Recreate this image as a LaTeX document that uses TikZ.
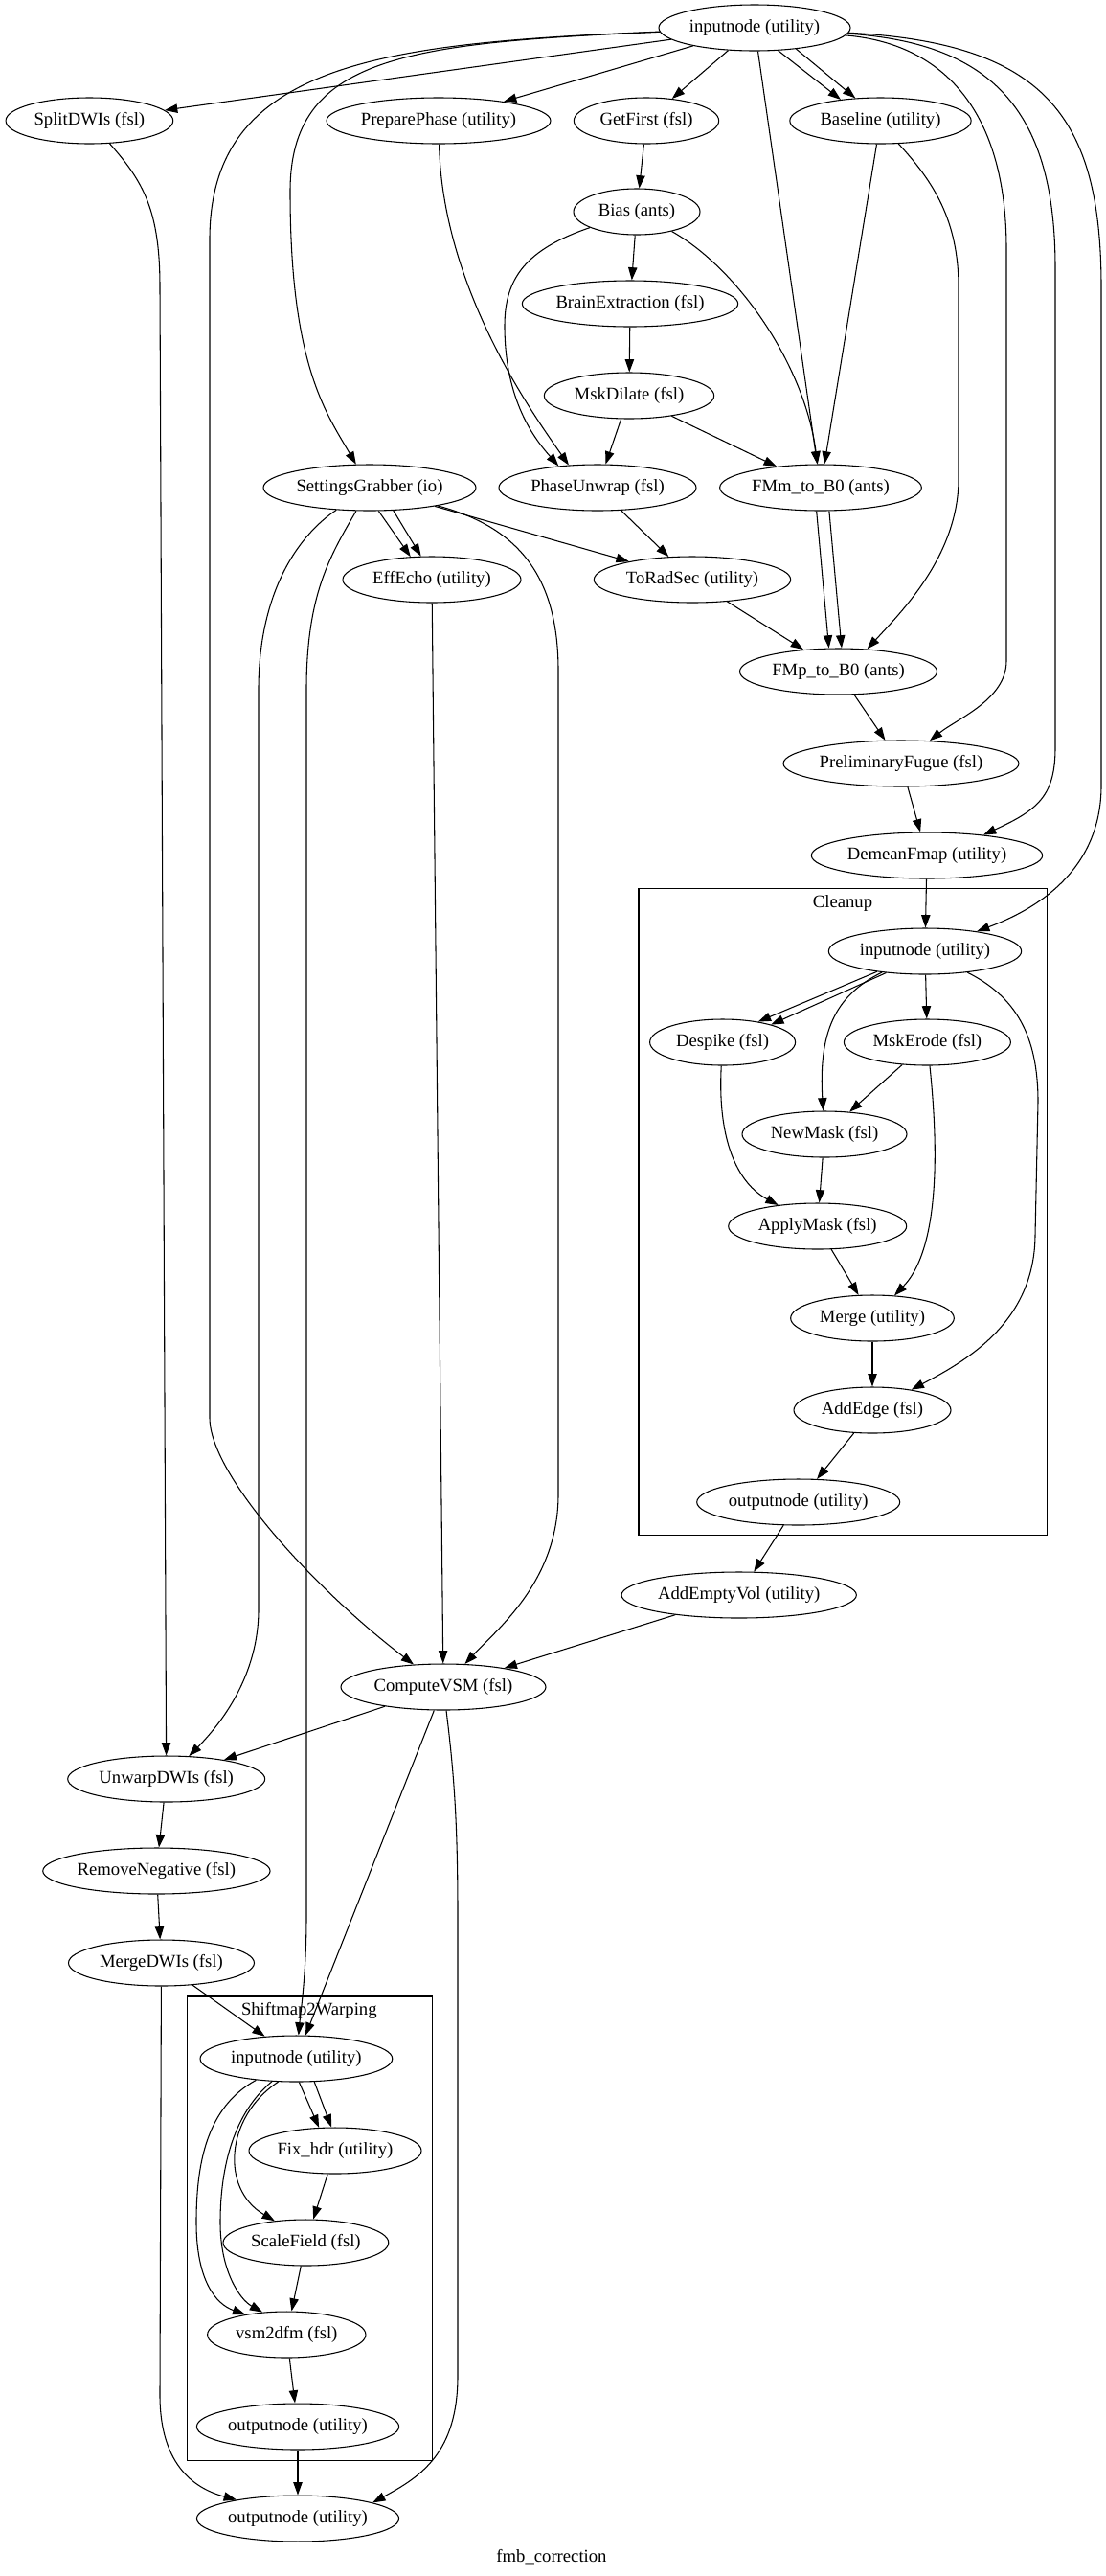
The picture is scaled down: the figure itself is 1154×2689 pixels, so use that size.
\documentclass[tikz,border=0pt]{standalone}
\usepackage{fontspec}
\setmainfont{Liberation Serif}
\usetikzlibrary{arrows.meta,shapes.geometric}
\begin{document}
\begin{tikzpicture}[x=0.75pt,y=-0.75pt,
  gnode/.style={ellipse,draw,line width=0.8pt,inner sep=0pt,minimum height=36pt,font=\fontsize{14}{16}\selectfont},
  lbl/.style={inner sep=0pt,font=\fontsize{14}{16}\selectfont},
  cluster/.style={rectangle,draw,line width=0.8pt,inner sep=0pt},
  e/.style={line width=0.8pt,-{Triangle[length=10pt,width=7pt]}}]
\useasboundingbox (0,0) rectangle (1154,2689);
% clusters
\node[cluster,minimum width=320pt,minimum height=506.5pt] (cleanup) at (880.3,1265.15) {};
\node[lbl] (cleanuplbl) at (880,943) {Cleanup};
\node[cluster,minimum width=191.85pt,minimum height=363pt] (s2w) at (323.4,2326) {};
\node[lbl] (s2wlbl) at (322.8,2098.5) {Shiftmap2Warping};
\node[lbl] (title) at (576,2669) {fmb\_correction};
% nodes
\node[gnode,minimum width=150pt] (in) at (788,29) {inputnode (utility)};
\node[gnode,minimum width=131pt] (split) at (93.4,126) {SplitDWIs (fsl)};
\node[gnode,minimum width=175.5pt] (prep) at (458,126) {PreparePhase (utility)};
\node[gnode,minimum width=113.5pt] (getfirst) at (675,126) {GetFirst (fsl)};
\node[gnode,minimum width=142pt] (baseline) at (919.5,126) {Baseline (utility)};
\node[gnode,minimum width=99pt] (bias) at (665,221) {Bias (ants)};
\node[gnode,minimum width=169pt] (brain) at (658,317) {BrainExtraction (fsl)};
\node[gnode,minimum width=133pt] (mskdil) at (657,413) {MskDilate (fsl)};
\node[gnode,minimum width=166.5pt] (sg) at (386,509) {SettingsGrabber (io)};
\node[gnode,minimum width=154.5pt] (phase) at (624,509) {PhaseUnwrap (fsl)};
\node[gnode,minimum width=158pt] (fmm) at (857,509) {FMm\_to\_B0 (ants)};
\node[gnode,minimum width=139.5pt] (eff) at (451,605) {EffEcho (utility)};
\node[gnode,minimum width=154pt] (torad) at (723,605) {ToRadSec (utility)};
\node[gnode,minimum width=154.5pt] (fmp) at (875.5,701) {FMp\_to\_B0 (ants)};
\node[gnode,minimum width=184.5pt] (prelim) at (941,797) {PreliminaryFugue (fsl)};
\node[gnode,minimum width=181pt] (demean) at (968,893) {DemeanFmap (utility)};
\node[gnode,minimum width=151pt] (clin) at (966,993) {inputnode (utility)};
\node[gnode,minimum width=114pt] (despike) at (754.6,1088) {Despike (fsl)};
\node[gnode,minimum width=130.5pt] (mskero) at (968.4,1088) {MskErode (fsl)};
\node[gnode,minimum width=129pt] (newmask) at (861,1184) {NewMask (fsl)};
\node[gnode,minimum width=139.5pt] (applymask) at (853.7,1280) {ApplyMask (fsl)};
\node[gnode,minimum width=128pt] (merge) at (911,1376) {Merge (utility)};
\node[gnode,minimum width=123pt] (addedge) at (911,1472) {AddEdge (fsl)};
\node[gnode,minimum width=159pt] (clout) at (833.7,1568) {outputnode (utility)};
\node[gnode,minimum width=184pt] (addempty) at (771.7,1665) {AddEmptyVol (utility)};
\node[gnode,minimum width=160.5pt] (cvsm) at (463,1761) {ComputeVSM (fsl)};
\node[gnode,minimum width=154.5pt] (unwarp) at (173.7,1857) {UnwarpDWIs (fsl)};
\node[gnode,minimum width=178pt] (removeneg) at (163.4,1953) {RemoveNegative (fsl)};
\node[gnode,minimum width=145.5pt] (mergedwi) at (168.5,2049) {MergeDWIs (fsl)};
\node[gnode,minimum width=150.6pt] (swin) at (309.4,2149) {inputnode (utility)};
\node[gnode,minimum width=135pt] (fixhdr) at (350,2245) {Fix\_hdr (utility)};
\node[gnode,minimum width=129.6pt] (scale) at (319.4,2341) {ScaleField (fsl)};
\node[gnode,minimum width=124pt] (vsm) at (299.3,2437) {vsm2dfm (fsl)};
\node[gnode,minimum width=158.4pt] (swout) at (311,2533) {outputnode (utility)};
\node[gnode,minimum width=158.4pt] (out) at (311,2629) {outputnode (utility)};
% edges from top inputnode
\draw[e] (in) -- (split);
\draw[e] (in) -- (prep);
\draw[e] (in) -- (getfirst);
\draw[e] (in.-44) -- (baseline.152);
\draw[e] (in.-27) -- (baseline.138);
\draw[e] (in) -- (fmm);
\draw[e] (in) .. controls (420,45) and (303,60) .. (303,200) .. controls (303,380) and (340,430) .. (sg);
\draw[e] (in) .. controls (400,45) and (219,65) .. (219,250) -- (219,1480) .. controls (219,1540) and (330,1660) .. (cvsm);
\draw[e] (in) .. controls (980,45) and (1051,110) .. (1051,260) -- (1051,690) .. controls (1051,730) and (1000,750) .. (prelim);
\draw[e] (in) .. controls (1040,45) and (1102,120) .. (1102,280) -- (1102,780) .. controls (1102,830) and (1085,845) .. (demean.20);
\draw[e] (in) .. controls (1090,45) and (1150,120) .. (1150,300) -- (1150,820) .. controls (1150,910) and (1080,950) .. (clin.21);
% upper part
\draw[e] (split) .. controls (150,190) and (167,220) .. (167,300) -- (unwarp);
\draw[e] (prep) .. controls (462,300) and (555,430) .. (phase.142);
\draw[e] (getfirst) -- (bias);
\draw[e] (bias) -- (brain);
\draw[e] (brain) -- (mskdil);
\draw[e] (bias) .. controls (550,260) and (527,290) .. (527,340) .. controls (527,420) and (560,460) .. (phase.151);
\draw[e] (bias) .. controls (770,280) and (840,380) .. (fmm);
\draw[e] (mskdil) -- (phase);
\draw[e] (mskdil) -- (fmm);
\draw[e] (baseline) -- (fmm);
\draw[e] (baseline.-52) .. controls (975,190) and (1001,230) .. (1001,300) -- (1001,500) .. controls (1001,580) and (940,640) .. (fmp.38);
\draw[e] (sg.-69) -- (eff.133);
\draw[e] (sg.-44) -- (eff.115);
\draw[e] (sg) -- (torad);
\draw[e] (sg) .. controls (540,550) and (583,600) .. (583,700) -- (583,1560) .. controls (583,1650) and (520,1700) .. (cvsm);
\draw[e] (sg) .. controls (310,560) and (270,620) .. (270,720) -- (270,1680) .. controls (270,1750) and (230,1800) .. (unwarp);
\draw[e] (sg) .. controls (345,580) and (320,620) .. (320,720) -- (320,2000) .. controls (320,2060) and (314,2100) .. (swin);
\draw[e] (phase) -- (torad);
\draw[e] (torad) -- (fmp);
\draw[e] (fmm.-100) -- (fmp.112);
\draw[e] (fmm.-70) -- (fmp.82);
\draw[e] (fmp) -- (prelim);
\draw[e] (prelim) -- (demean);
\draw[e] (demean) -- (clin);
\draw[e] (eff) -- (cvsm);
% Cleanup
\draw[e] (clin.-157) -- (despike.30);
\draw[e] (clin.-151) -- (despike.20);
\draw[e] (clin) .. controls (870,1040) and (855,1080) .. (newmask);
\draw[e] (clin) -- (mskero);
\draw[e] (clin) .. controls (1060,1040) and (1084,1080) .. (1084,1150) -- (1081,1290) .. controls (1080,1380) and (1010,1420) .. (addedge);
\draw[e] (despike) .. controls (749,1190) and (770,1235) .. (applymask);
\draw[e] (mskero) -- (newmask);
\draw[e] (mskero) .. controls (978,1180) and (985,1300) .. (merge);
\draw[e] (newmask) -- (applymask);
\draw[e] (applymask) -- (merge);
\draw[e] (merge) -- (addedge);
\draw[e] (addedge) -- (clout);
\draw[e] (clout) -- (addempty);
\draw[e] (addempty) -- (cvsm);
% lower part
\draw[e] (cvsm) -- (unwarp);
\draw[e] (cvsm) -- (swin);
\draw[e] (cvsm) .. controls (474,1850) and (478,1900) .. (478,2000) -- (478,2480) .. controls (478,2560) and (440,2585) .. (out.12);
\draw[e] (unwarp) -- (removeneg);
\draw[e] (removeneg) -- (mergedwi);
\draw[e] (mergedwi) -- (swin);
\draw[e] (mergedwi) -- (167,2500) .. controls (167,2570) and (200,2597) .. (out.163);
% Shiftmap2Warping
\draw[e] (swin.-83) -- (fixhdr.125);
\draw[e] (swin.-52) -- (fixhdr.99);
\draw[e] (swin.-128) .. controls (235,2210) and (230,2285) .. (scale.145);
\draw[e] (swin.-152) .. controls (215,2200) and (205,2260) .. (205,2320) .. controls (205,2380) and (225,2405) .. (vsm.154);
\draw[e] (swin.-137) .. controls (245,2205) and (230,2260) .. (230,2320) .. controls (230,2370) and (250,2400) .. (vsm.137);
\draw[e] (fixhdr) -- (scale);
\draw[e] (scale) -- (vsm);
\draw[e] (vsm) -- (swout);
\draw[e] (swout) -- (out);
\end{tikzpicture}
\end{document}
